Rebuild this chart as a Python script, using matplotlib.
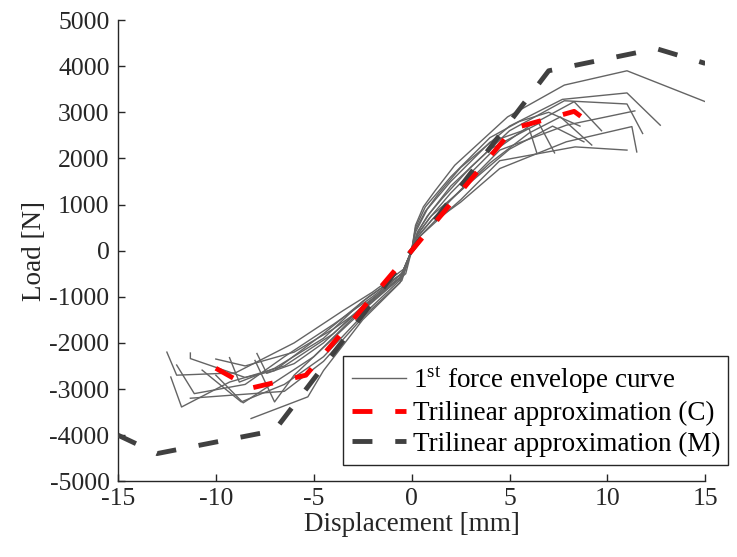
import matplotlib
matplotlib.use("Agg")
import matplotlib.pyplot as plt

plt.rcParams["font.family"] = ["Liberation Serif", "DejaVu Serif"]
plt.rcParams["mathtext.fontset"] = "custom"
plt.rcParams["mathtext.rm"] = "Liberation Serif"
plt.rcParams["axes.unicode_minus"] = False

# 1st force envelope curves, one per specimen (displacement mm, load N)
e01_d = [-12.5, -12.0, -9.0, -6.0, -3.5, -2.0, -0.4, 0, 0.2, 0.6, 1.2, 2.2, 4.9, 7.8, 11.0, 15.0]
e01_f = [-2200, -2700, -2650, -2000, -1300, -900, -400, 0, 550, 950, 1300, 1850, 2900, 3590, 3900, 3230]
e02_d = [-12.0, -11.1, -8.5, -6.5, -4.0, -2.0, -0.5, 0, 0.2, 0.7, 1.4, 2.5, 5.0, 7.7, 11.0, 12.7]
e02_f = [-2480, -3100, -2900, -2300, -1600, -1000, -500, 0, 450, 850, 1250, 1800, 2700, 3280, 3420, 2720]
e03_d = [-11.3, -11.3, -8.5, -7.0, -4.5, -2.2, -0.5, 0, 0.3, 0.8, 1.6, 3.0, 5.0, 7.8, 11.0, 11.8]
e03_f = [-2220, -2340, -2750, -2600, -1800, -1000, -500, 0, 400, 750, 1150, 1800, 2600, 3250, 3180, 2540]
e04_d = [-12.3, -11.75, -9.3, -6.5, -4.0, -2.0, -0.4, 0, 0.3, 0.9, 2.0, 4.0, 6.0, 8.3, 9.7]
e04_f = [-2740, -3390, -2850, -2500, -1800, -1050, -450, 0, 350, 700, 1250, 2100, 2700, 3230, 2600]
e05_d = [-9.3, -8.8, -7.0, -4.5, -2.5, -0.5, 0, 0.3, 1.0, 2.0, 4.0, 6.0, 7.6, 9.2]
e05_f = [-2320, -2850, -2550, -1900, -1100, -500, 0, 300, 650, 1100, 1900, 2550, 2900, 2290]
e06_d = [-7.9, -7.4, -6.0, -4.5, -2.5, -0.5, 0, 0.3, 1.0, 2.0, 4.5, 7.9, 11.4]
e06_f = [-2230, -2660, -2450, -2000, -1200, -550, 0, 300, 650, 1100, 2180, 2720, 3030]
e07_d = [-8.0, -7.0, -6.0, -4.5, -2.5, -0.6, 0, 0.4, 1.2, 2.5, 4.5, 7.9, 11.25, 11.5]
e07_f = [-2380, -3280, -2700, -2100, -1300, -600, 0, 300, 650, 1050, 1780, 2360, 2690, 2140]
e08_d = [-10.7, -8.7, -6.5, -4.5, -2.5, -0.5, 0, 0.4, 1.3, 2.5, 4.5, 8.35, 11.0]
e08_f = [-2590, -3280, -2900, -2300, -1400, -600, 0, 300, 650, 1100, 1950, 2250, 2180]
e09_d = [-8.2, -5.3, -4.5, -2.5, -0.6, 0, 0.3, 1.0, 2.5, 5.0, 7.2, 8.8]
e09_f = [-3640, -3170, -2600, -1500, -700, 0, 350, 750, 1300, 2200, 2700, 2360]
e10_d = [-11.3, -6.5, -4.5, -2.5, -0.5, 0, 0.3, 0.9, 2.0, 4.0, 6.5, 7.3]
e10_f = [-3200, -3050, -2400, -1450, -650, 0, 400, 800, 1400, 2200, 2760, 2120]
e11_d = [-10.0, -8.6, -5.0, -2.5, -0.5, 0, 0.2, 0.8, 2.0, 4.0, 6.0, 6.4]
e11_f = [-2700, -3300, -2300, -1250, -550, 0, 400, 900, 1500, 2350, 2650, 2110]
e12_d = [-10.0, -8.5, -6.0, -4.0, -2.0, -0.3, 0, 0.2, 0.7, 2.0, 4.0, 5.5, 7.0, 8.6]
e12_f = [-2350, -2500, -2200, -1700, -1100, -500, 0, 500, 950, 1600, 2450, 2800, 3000, 2700]

# Trilinear approximations
tri_c_d = [-10.0, -8.2, -5.4, 0, 5.2, 8.3, 9.0]
tri_c_f = [-2550, -2980, -2700, 0, 2650, 3020, 2800]
tri_m_d = [-15.0, -13.0, -7.0, 7.0, 12.5, 15.0]
tri_m_f = [-4000, -4400, -3900, 3900, 4380, 4060]

envelopes = [
    (e01_d, e01_f), (e02_d, e02_f), (e03_d, e03_f), (e04_d, e04_f),
    (e05_d, e05_f), (e06_d, e06_f), (e07_d, e07_f), (e08_d, e08_f),
    (e09_d, e09_f), (e10_d, e10_f), (e11_d, e11_f), (e12_d, e12_f),
]

fig = plt.figure(figsize=(7.37, 5.57), dpi=100)
ax = fig.add_axes([0.160, 0.136, 0.797, 0.828])

gray_lines = []
for d, f in envelopes:
    gray_lines += ax.plot(d, f, color="#646464", linewidth=1.0, zorder=2)

(m_line,) = ax.plot(tri_m_d, tri_m_f, color="#404040", linewidth=3.5,
                    dashes=(4.1, 4.7), zorder=3)
(c_line,) = ax.plot(tri_c_d, tri_c_f, color="#ff0000", linewidth=3.5,
                    dashes=(4.1, 4.7), zorder=4)

ax.set_xlim(-15, 15)
ax.set_ylim(-5000, 5000)
ax.set_xticks(range(-15, 16, 5))
ax.set_yticks(range(-5000, 5001, 1000))
ax.spines["top"].set_visible(False)
ax.spines["right"].set_visible(False)
for s in ("left", "bottom"):
    ax.spines[s].set_color("#262626")
    ax.spines[s].set_linewidth(1.0)
ax.tick_params(direction="in", length=5, width=1.0, colors="#262626",
               labelsize=18.5, labelcolor="#262626")
ax.tick_params(axis="x", pad=5)
ax.tick_params(axis="y", pad=6)

ax.set_xlabel("Displacement [mm]", fontsize=19.5, color="#262626", labelpad=1)
ax.set_ylabel("Load [N]", fontsize=19.5, color="#262626", labelpad=2)

leg = ax.legend(
    [gray_lines[0], c_line, m_line],
    ["1$^{\\rm st}$ force envelope curve", "Trilinear approximation (C)",
     "Trilinear approximation (M)"],
    loc="lower right", bbox_to_anchor=(0.988, 0.165),
    bbox_transform=fig.transFigure, fontsize=19.5, frameon=True, fancybox=False,
    framealpha=1, edgecolor="#262626", handlelength=2.0, borderpad=0.3,
    labelspacing=0.2, handletextpad=0.25, borderaxespad=0,
)
leg.get_frame().set_linewidth(1.0)

fig.savefig("out.png", dpi=100)
